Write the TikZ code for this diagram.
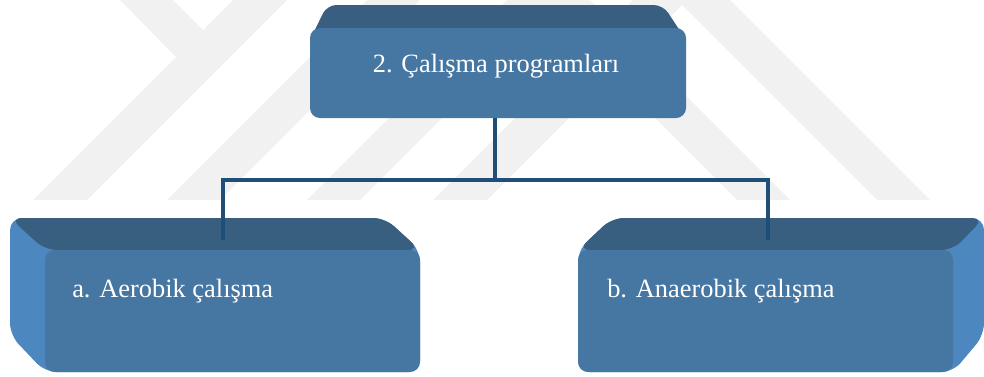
\documentclass[tikz,border=0pt]{standalone}
\usepackage{fontspec}
\setmainfont{Liberation Serif}

\definecolor{onyuz}{RGB}{70,118,162}
\definecolor{ustyuz}{RGB}{56,94,128}
\definecolor{yanyuz}{RGB}{77,135,192}
\definecolor{cizgi}{RGB}{31,78,121}
\definecolor{filigran}{RGB}{241,241,241}

\begin{document}
\begin{tikzpicture}[x=0.75pt,y=-0.75pt,
    onkutu/.style={fill=onyuz, rounded corners=7.5pt, inner sep=0pt},
    yazi/.style={text=white, font=\fontsize{19.8}{24}\selectfont, inner sep=0pt, anchor=base west},
    baglanti/.style={draw=cizgi, line width=3.4pt}]
        \useasboundingbox (0,0) rectangle (984,376);
        % Filigran
        \fill[filigran] (120,0) -- (173,0) -- (203,30) -- (233,0) -- (287,0) -- (87,200) -- (33,200) -- (176,57) -- cycle;
        \fill[filigran] (167,200) -- (220,200) -- (420,0) -- (367,0) -- cycle;
        \fill[filigran] (307,200) -- (360,200) -- (560,0) -- (507,0) -- cycle;
        \fill[filigran] (433,200) -- (487,200) -- (687,0) -- (633,0) -- cycle;
        \fill[filigran] (537,0) -- (590,0) -- (790,200) -- (737,200) -- cycle;
        \fill[filigran] (677,0) -- (730,0) -- (930,200) -- (877,200) -- cycle;
        % Ust kutu
        \fill[ustyuz, rounded corners=7pt] (310,40) -- (327,5) -- (663,5) -- (686,40) -- cycle;
        \node[onkutu, minimum width=282pt, minimum height=67.5pt] (ust) at (498,73) {};
        \node[yazi, anchor=base] (ustyazi) at (496,72) {2. Çalışma programları};
        % Sol kutu
        \fill[yanyuz, rounded corners=9pt] (10,218) -- (385,218) -- (420,250) -- (420,372) -- (45,372) -- (10,335) -- cycle;
        \fill[ustyuz, rounded corners=9pt] (10,218) -- (385,218) -- (420,250) -- (45,250) -- cycle;
        \node[onkutu, minimum width=281.25pt, minimum height=91.5pt] (aerobik) at (232.5,311) {};
        \node[yazi] (aerobikyazi) at (72,297) {a. Aerobik çalışma};
        % Sag kutu
        \fill[yanyuz, rounded corners=9pt] (578,250) -- (612,218) -- (984,218) -- (984,335) -- (953,372) -- (578,372) -- cycle;
        \fill[ustyuz, rounded corners=9pt] (578,250) -- (612,218) -- (984,218) -- (953,250) -- cycle;
        \node[onkutu, minimum width=281.25pt, minimum height=91.5pt] (anaerobik) at (765.5,311) {};
        \node[yazi] (anaerobikyazi) at (607,297) {b. Anaerobik çalışma};
        % Baglantilar
        \coordinate (orta) at (495,180);
        \coordinate (sol) at (223,240);
        \coordinate (sag) at (768,240);
        \draw[baglanti] (ust.south -| orta) -- (orta) -| (sol);
        \draw[baglanti] (orta) -| (sag);
    \end{tikzpicture}
\end{document}
